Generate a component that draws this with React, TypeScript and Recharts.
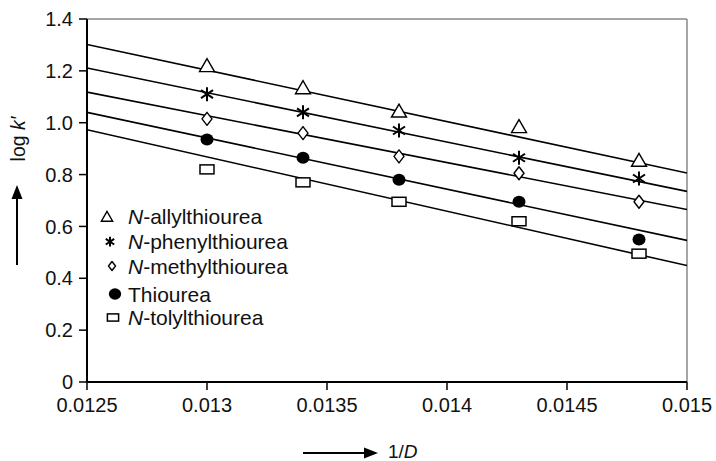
import React from 'react';
import { ScatterChart, Scatter, XAxis, YAxis, ReferenceLine, Customized } from 'recharts';

const xVals = [0.013, 0.0134, 0.0138, 0.0143, 0.0148];
const allyl = [1.22, 1.135, 1.045, 0.985, 0.855];
const phenyl = [1.11, 1.04, 0.97, 0.865, 0.785];
const methyl = [1.015, 0.96, 0.87, 0.805, 0.695];
const thiourea = [0.935, 0.865, 0.78, 0.695, 0.55];
const tolyl = [0.82, 0.77, 0.695, 0.62, 0.495];

const fitX = [0.0125, 0.015];
const allylFit = [1.302, 0.806];
const phenylFit = [1.211, 0.735];
const methylFit = [1.118, 0.665];
const thioFit = [1.04, 0.546];
const tolylFit = [0.973, 0.449];

const xTicks = [0.0125, 0.013, 0.0135, 0.014, 0.0145, 0.015];
const yTicks = [0, 0.2, 0.4, 0.6, 0.8, 1.0, 1.2, 1.4];

const seriesNames = ['N-allylthiourea', 'N-phenylthiourea', 'N-methylthiourea', 'Thiourea', 'N-tolylthiourea'];

const toPts = (xs: number[], ys: number[]) => xs.map((x, i) => ({ x, y: ys[i] }));

const FONT = '"Liberation Sans", Arial, sans-serif';

const Triangle = (cx: number, cy: number, s = 1) => (
  <polygon points={`${cx},${cy - 7 * s} ${cx - 7.5 * s},${cy + 6 * s} ${cx + 7.5 * s},${cy + 6 * s}`} fill="#fff" stroke="#000" strokeWidth={1.4} />
);
const Star = (cx: number, cy: number, s = 1) => (
  <g stroke="#000" strokeWidth={2}>
    <line x1={cx} y1={cy - 7 * s} x2={cx} y2={cy + 7 * s} />
    <line x1={cx - 6 * s} y1={cy - 4 * s} x2={cx + 6 * s} y2={cy + 4 * s} />
    <line x1={cx - 6 * s} y1={cy + 4 * s} x2={cx + 6 * s} y2={cy - 4 * s} />
  </g>
);
const Diamond = (cx: number, cy: number, s = 1) => (
  <polygon points={`${cx},${cy - 6.5 * s} ${cx + 5 * s},${cy} ${cx},${cy + 6.5 * s} ${cx - 5 * s},${cy}`} fill="#fff" stroke="#000" strokeWidth={1.4} strokeLinejoin="round" />
);
const Dot = (cx: number, cy: number, s = 1) => <ellipse cx={cx} cy={cy} rx={6.5 * s} ry={6 * s} fill="#000" />;
const Rect = (cx: number, cy: number, s = 1) => (
  <rect x={cx - 7 * s} y={cy - 4.5 * s} width={14 * s} height={9 * s} fill="#fff" stroke="#000" strokeWidth={1.5} />
);

const markers = [Triangle, Star, Diamond, Dot, Rect];

const makeShape = (fn: (cx: number, cy: number, s?: number) => React.ReactElement) => (props: any) => fn(props.cx, props.cy);

const legendRows = [216.7, 241.7, 266, 294, 317.5];
const legendX = [107, 110, 112, 115, 113];
const legendScale = [0.75, 0.7, 0.7, 0.95, 0.8];

const Decorations = () => (
  <g fontFamily={FONT}>
    {/* y label */}
    <text x={0} y={0} transform="translate(25,139) rotate(-90)" textAnchor="middle" fontSize={19.5} fill="#111">
      log <tspan fontStyle="italic">k′</tspan>
    </text>
    <line x1={17} y1={265} x2={17} y2={196} stroke="#000" strokeWidth={2} />
    <polygon points="17,185 11.5,199 22.5,199" fill="#000" />
    {/* x label */}
    <line x1={303} y1={453} x2={366} y2={453} stroke="#000" strokeWidth={2} />
    <polygon points="378,453 364,447.5 364,458.5" fill="#000" />
    <text x={388} y={458} fontSize={19} fill="#111">
      1/<tspan fontStyle="italic">D</tspan>
    </text>
    {/* legend */}
    {seriesNames.map((name, i) => {
      const italicN = name.startsWith('N-');
      return (
        <g key={name}>
          {markers[i](legendX[i], legendRows[i], legendScale[i])}
          <text x={128} y={legendRows[i] + 7.5} fontSize={21} fill="#111">
            {italicN ? (
              <>
                <tspan fontStyle="italic">N</tspan>
                {name.slice(1)}
              </>
            ) : (
              name
            )}
          </text>
        </g>
      );
    })}
  </g>
);

const series = [allyl, phenyl, methyl, thiourea, tolyl];
const fits = [allylFit, phenylFit, methylFit, thioFit, tolylFit];

export default function App() {
  return (
    <div style={{ position: 'absolute', left: 0, top: 0, background: '#fff' }}>
      <ScatterChart width={716} height={461} margin={{ top: 19, right: 29, bottom: 0, left: 0 }}>
        <XAxis
          type="number"
          dataKey="x"
          domain={[0.0125, 0.015]}
          ticks={xTicks}
          allowDataOverflow
          height={79}
          tickSize={8}
          tickMargin={8}
          axisLine={{ stroke: '#000', strokeWidth: 2 }}
          tickLine={{ stroke: '#000', strokeWidth: 1.5 }}
          tick={{ fontSize: 20, fill: '#111', fontFamily: FONT }}
          tickFormatter={(v: number) => String(v)}
        />
        <YAxis
          type="number"
          dataKey="y"
          domain={[0, 1.4]}
          ticks={yTicks}
          allowDataOverflow
          width={87}
          tickSize={8}
          tickMargin={6}
          axisLine={{ stroke: '#000', strokeWidth: 2 }}
          tickLine={{ stroke: '#000', strokeWidth: 1.5 }}
          tick={{ fontSize: 20, fill: '#111', fontFamily: FONT }}
          tickFormatter={(v: number) => (v === 0 ? '0' : v.toFixed(1))}
        />
        <ReferenceLine y={1.4} stroke="#888" strokeWidth={1.5} />
        <ReferenceLine x={0.015} stroke="#888" strokeWidth={1.5} />
        {fits.map((f, i) => (
          <Scatter
            key={'fit' + i}
            data={toPts(fitX, f)}
            line={{ stroke: '#000', strokeWidth: 1.6 }}
            lineType="joint"
            shape={() => <g />}
            isAnimationActive={false}
          />
        ))}
        {series.map((s, i) => (
          <Scatter key={'s' + i} data={toPts(xVals, s)} shape={makeShape(markers[i])} isAnimationActive={false} />
        ))}
        <Customized component={Decorations} />
      </ScatterChart>
    </div>
  );
}
